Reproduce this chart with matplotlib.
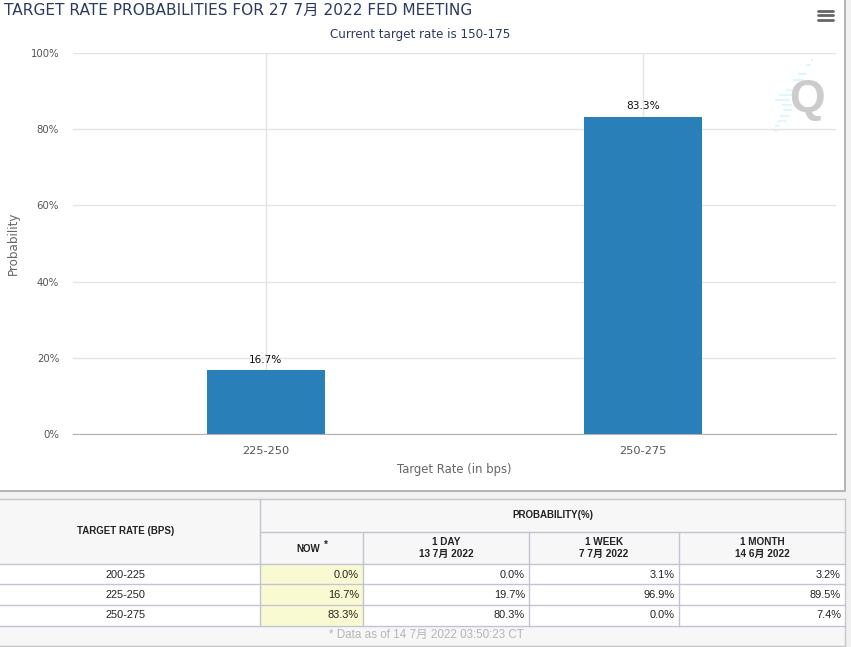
import matplotlib
matplotlib.use("Agg")
import matplotlib.pyplot as plt
from matplotlib.patches import Rectangle
from matplotlib.ticker import FuncFormatter

categories = ["225-250", "250-275"]
probabilities = [16.7, 83.3]
y_ticks = [0, 20, 40, 60, 80, 100]

table_rates = ["200-225", "225-250", "250-275"]
now_values = ["0.0%", "16.7%", "83.3%"]
day_values = ["0.0%", "19.7%", "80.3%"]
week_values = ["3.1%", "96.9%", "0.0%"]
month_values = ["3.2%", "89.5%", "7.4%"]
col_heads = ["NOW", "1 DAY\n13 7月 2022", "1 WEEK\n7 7月 2022", "1 MONTH\n14 6月 2022"]

W, H = 851, 647
CHART = ["DejaVu Sans", "Noto Sans CJK SC"]
TABLE = ["Liberation Sans", "Noto Sans CJK SC"]
NAVY = "#2b3a5e"

fig = plt.figure(figsize=(W / 100, H / 100), dpi=100, facecolor="#f1f1f1")

# pixel-space overlay for panels, table and decoration
bg = fig.add_axes([0, 0, 1, 1], zorder=0)
bg.set_xlim(0, W); bg.set_ylim(H, 0); bg.axis("off")
bg.add_patch(Rectangle((-2, -2), 847, 493, fc="white", ec="#a8a8a8", lw=1.2))

# chart
ax = fig.add_axes([73 / W, 1 - 434 / H, (836 - 73) / W, (434 - 53) / H], zorder=1)
ax.patch.set_alpha(0)
x = range(len(categories))
bars = ax.bar(x, probabilities, width=0.315, color="#2980b9", zorder=3)
ax.set_xlim(-0.512, 1.512)
ax.set_ylim(0, 100)
ax.set_xticks(list(x), categories)
ax.set_yticks(y_ticks)
ax.yaxis.set_major_formatter(FuncFormatter(lambda v, _: f"{v:.0f}%"))
ax.grid(True, color="#e4e4e4", lw=1, zorder=0)
ax.set_axisbelow(True)
for s in ("top", "right", "left"):
    ax.spines[s].set_visible(False)
ax.spines["bottom"].set_color("#b0b0b0")
ax.tick_params(axis="x", length=0, pad=8.5, labelsize=8.2, labelcolor="#555555")
ax.tick_params(axis="y", length=0, pad=10, labelsize=7.3, labelcolor="#555555")
for lbl in ax.get_xticklabels() + ax.get_yticklabels():
    lbl.set_family(CHART)
ax.set_xlabel("Target Rate (in bps)", fontsize=8.35, color="#666666", labelpad=5, family=CHART)
ax.set_ylabel("Probability", fontsize=8.6, color="#666666", family=CHART)
ax.yaxis.set_label_coords((20 - 73) / (836 - 73), 0.5)
for r, v in zip(bars, probabilities):
    ax.annotate(f"{v}%", (r.get_x() + r.get_width() / 2, v), xytext=(0, 4),
                textcoords="offset points", ha="center", va="bottom",
                fontsize=7.6, color="#111111", family=CHART)

over = fig.add_axes([0, 0, 1, 1], zorder=2)
over.set_xlim(0, W); over.set_ylim(H, 0); over.axis("off")

over.text(4, 10, "TARGET RATE PROBABILITIES FOR 27 7月 2022 FED MEETING", fontsize=11.1,
          color=NAVY, va="center", ha="left", family=CHART)
over.text(420, 34.5, "Current target rate is 150-175", fontsize=8.6, color=NAVY,
          va="center", ha="center", family=CHART)

# menu icon
for yy in (10.5, 15, 20):
    over.plot([818, 833], [yy, yy], color="#666666", lw=2, solid_capstyle="round")

# watermark
for xa, xb, yy in [(811, 813, 60), (806, 811, 65), (798, 806, 74), (793, 803, 80),
                   (786, 800, 90), (779, 792, 95), (775, 790, 100), (782, 792, 105),
                   (783, 792, 110), (780, 790, 116), (777, 786, 121), (775, 780, 126),
                   (774, 777, 131)]:
    over.plot([xa, xb], [yy, yy], color="#dff6fc", lw=1.5, solid_capstyle="butt")
over.text(807, 100, "Q", fontsize=33, fontweight="bold", color="#cccccc",
          ha="center", va="center", family="Liberation Sans")

# table
col_x = [260, 363, 529, 679, 845]
row_y = [532, 564, 584, 605, 626]
LINE = "#c3c3d3"
over.add_patch(Rectangle((-2, 499), 847, 65, fc="#f7f7f7", ec="none"))
over.add_patch(Rectangle((-2, 564), 847, 62, fc="white", ec="none"))
over.add_patch(Rectangle((-2, 626), 847, 19, fc="#f7f7f7", ec="none"))
over.add_patch(Rectangle((col_x[0], 564), col_x[1] - col_x[0], 62, fc="#fafad2", ec="none"))

over.plot([0, 845], [499, 499], color="#c8c8c8", lw=1)
over.plot([0, 845], [645.5, 645.5], color="#c8c8c8", lw=1)
over.plot([845, 845], [499, 645], color="#c8c8c8", lw=1)
over.plot([col_x[0], 845], [532, 532], color=LINE, lw=1)
for yy in row_y[1:]:
    over.plot([0, 845], [yy, yy], color=LINE, lw=1)
over.plot([260, 260], [499, 626], color=LINE, lw=1)
for xx in col_x[1:4]:
    over.plot([xx, xx], [532, 626], color=LINE, lw=1)

over.text(126, 531.5, "TARGET RATE (BPS)", fontsize=7, fontweight="bold", color="#222222",
          ha="center", va="center", family=TABLE)
over.text(553, 515.5, "PROBABILITY(%)", fontsize=7, fontweight="bold", color="#222222",
          ha="center", va="center", family=TABLE)
for i, head in enumerate(col_heads):
    cx = (col_x[i] + col_x[i + 1]) / 2
    if i == 0:
        over.text(cx - 3, 548.5, head, fontsize=7, fontweight="bold", color="#222222",
                  ha="center", va="center", family=TABLE)
        over.text(cx + 14, 545, "*", fontsize=7, fontweight="bold", color="#222222",
                  ha="center", va="center", family=TABLE)
    else:
        over.text(cx, 548, head, fontsize=7.2, fontweight="bold", color="#222222",
                  ha="center", va="center", linespacing=1.35, family=TABLE)

row_mid = [574.5, 595, 615.5]
value_cols = [now_values, day_values, week_values, month_values]
for r, ym in enumerate(row_mid):
    over.text(126, ym, table_rates[r], fontsize=7.9, color="#222222",
              ha="center", va="center", family=TABLE)
    for c, vals in enumerate(value_cols):
        over.text(col_x[c + 1] - 4, ym, vals[r], fontsize=7.9, color="#222222",
                  ha="right", va="center", family=TABLE)

over.text(426, 635, "* Data as of 14 7月 2022 03:50:23 CT", fontsize=8.4, color="#b5b5b5",
          ha="center", va="center", family=TABLE)

fig.savefig("out.png", dpi=100, facecolor=fig.get_facecolor())
